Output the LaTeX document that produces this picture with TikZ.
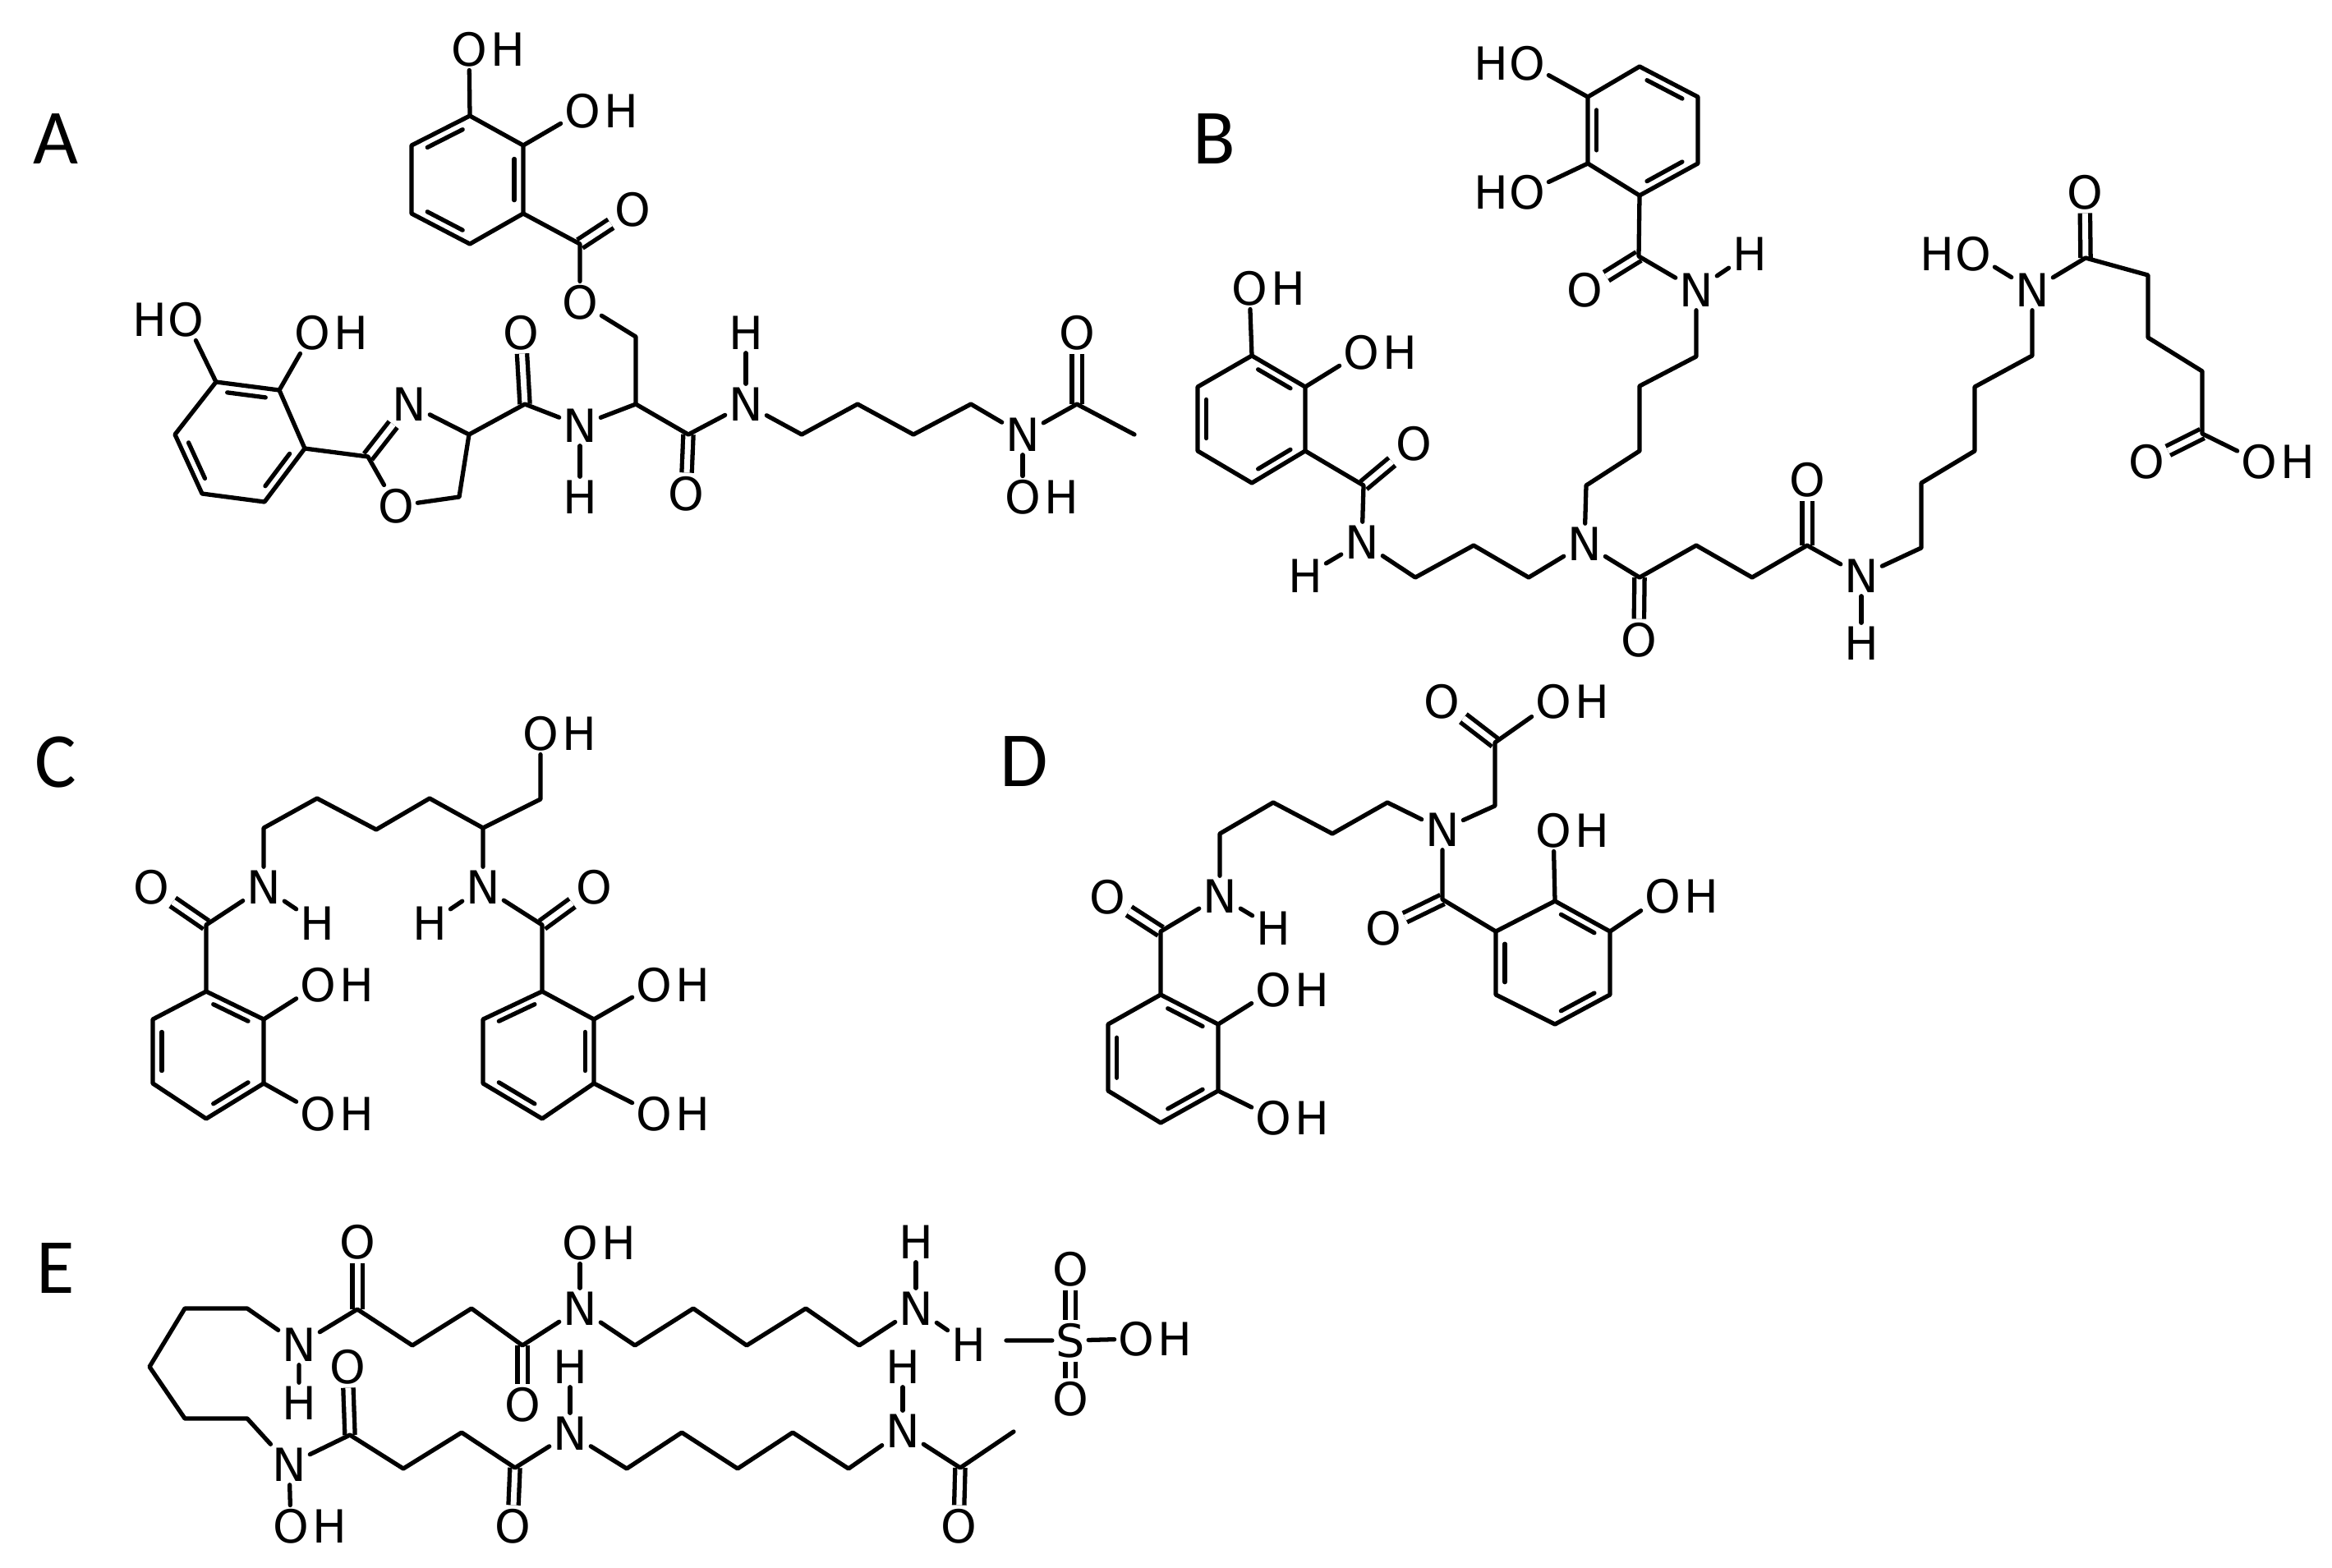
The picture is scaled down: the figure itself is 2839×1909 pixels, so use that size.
\documentclass[tikz,border=0pt]{standalone}
\usepackage{fontspec}
\setmainfont{DejaVu Sans}
\newfontfamily\panelfont{Carlito}
\usetikzlibrary{calc}
\tikzset{
  atom/.style={inner sep=0.045cm,outer sep=0pt,font=\fontsize{15.8}{17}\selectfont,text=black},
  panel/.style={inner sep=0pt,font=\panelfont\fontsize{27}{30}\selectfont,text=black},
  bond/.style={line width=1.5pt,line cap=round,line join=round,black},
  dbond/.style={line width=1.5pt,double,double distance=0.07cm,black},
}
\newcommand{\rdbl}[3]{\draw[bond] ($(#1)!.14!(#2)!.16!(#3)$) -- ($(#2)!.14!(#1)!.16!(#3)$);}
\newcommand{\OH}{O\rlap{\hspace{.09em}H}}
\newcommand{\HO}{\llap{H\hspace{.02em}}O}
\begin{document}
\begin{tikzpicture}[x=0.01cm,y=-0.01cm]
\useasboundingbox (0,0) rectangle (2839,1909);
\fill[white] (0,0) rectangle (2839,1909);

% ---------- Panel labels
\node[panel] (la) at (68,169) {A};
\node[panel] (lb) at (1478,169) {B};
\node[panel] (lc) at (68,928) {C};
\node[panel] (ld) at (1247,927) {D};
\node[panel] (le) at (68,1544) {E};

% ---------- A
\foreach \nm/\xx/\yy in {a1/572/141,a2/637/177,a3/637/260,a4/572/297,a5/501/260,a6/501/177,ac/569/219,
  acc/706/297,ach2/774/410,ach/774/492,acon/639/492,ac4/571/529,ac5/559/605,ac2/448/556,
  ap1/371/546,ap2/340/475,ap3/263/465,ap4/213/529,ap5/246/601,ap6/322/611,apc/292/538,
  acr/838/529,ab1/976/529,ab2/1044/492,ab3/1112/529,ab4/1182/492,aco/1311/492,ame/1381/529}
  {\coordinate (\nm) at (\xx,\yy);}
\node[atom] (aoh1) at (571,60) {\OH};
\node[atom] (aoh2) at (709,135) {\OH};
\node[atom] (ao1) at (770,255) {O};
\node[atom] (ao2) at (706,368) {O};
\node[atom] (an1) at (706,518) {N};
\node[atom] (ah1) at (706,605) {H};
\node[atom] (ao3) at (634,405) {O};
\node[atom] (aor) at (482,616) {O};
\node[atom] (anr) at (498,492) {N};
\node[atom] (aoh3) at (380,405) {\OH};
\node[atom] (aoh4) at (226,389) {\HO};
\node[atom] (ao4) at (835,601) {O};
\node[atom] (an2) at (908,492) {N};
\node[atom] (ah2) at (908,405) {H};
\node[atom] (an3) at (1245,529) {N};
\node[atom] (aoh5) at (1245,605) {\OH};
\node[atom] (ao5) at (1311,405) {O};
\draw[dbond] (acc) -- (ao1);
\draw[dbond] (acon) -- (ao3);
\draw[dbond] (acr) -- (ao4);
\draw[dbond] (aco) -- (ao5);
\draw[dbond] (ac2) -- (anr);
\draw[bond] (a1)--(a2)--(a3)--(a4)--(a5)--(a6)--cycle;
\rdbl{a1}{a6}{ac}\rdbl{a2}{a3}{ac}\rdbl{a4}{a5}{ac}
\draw[bond] (a1)--(aoh1);
\draw[bond] (a2)--(aoh2);
\draw[bond] (a3)--(acc)--(ao2)--(ach2)--(ach)--(an1)--(acon)--(ac4)--(anr);
\draw[bond] (an1)--(ah1);
\draw[bond] (ac4)--(ac5)--(aor)--(ac2)--(ap1);
\draw[bond] (ap1)--(ap2)--(ap3)--(ap4)--(ap5)--(ap6)--cycle;
\rdbl{ap2}{ap3}{apc}\rdbl{ap4}{ap5}{apc}\rdbl{ap6}{ap1}{apc}
\draw[bond] (ap2)--(aoh3);
\draw[bond] (ap3)--(aoh4);
\draw[bond] (ach)--(acr)--(an2)--(ab1)--(ab2)--(ab3)--(ab4)--(an3)--(aco)--(ame);
\draw[bond] (an2)--(ah2);
\draw[bond] (an3)--(aoh5);

% ---------- B
\foreach \nm/\xx/\yy in {b1/1996/81,b2/2067/118,b3/2067/199,b4/1996/238,b5/1933/199,b6/1933/118,bc/2000/158,
  bcc/1995/312,bu1/2065/434,bu2/1996/470,bu3/1996/549,bu4/1931/591,
  bl1/1861/703,bl2/1794/664,bl3/1723/703,blc/1660/591,
  br1/1589/549,br2/1524/588,br3/1458/549,br4/1458/471,br5/1524/433,br6/1589/471,brc/1524/510,
  bm1/1996/703,bm2/2065/664,bm3/2133/703,bm4/2200/664,
  bs1/2339/667,bs2/2339/588,bs3/2404/549,bs4/2404/471,bs5/2474/433,
  bt1/2539/314,bt2/2615/335,bt3/2615/411,bt4/2681/452,bt5/2681/528}
  {\coordinate (\nm) at (\xx,\yy);}
\node[atom] (boh1) at (1859,77) {\HO};
\node[atom] (boh2) at (1859,234) {\HO};
\node[atom] (bo1) at (1929,353) {O};
\node[atom] (bn1) at (2065,353) {N};
\node[atom] (bh1) at (2130,309) {H};
\node[atom] (bn2) at (1929,662) {N};
\node[atom] (bn3) at (1658,660) {N};
\node[atom] (bh3) at (1589,701) {H};
\node[atom] (bo2) at (1721,540) {O};
\node[atom] (boh3) at (1521,351) {\OH};
\node[atom] (boh4) at (1657,429) {\OH};
\node[atom] (bo3) at (1995,779) {O};
\node[atom] (bo4) at (2200,584) {O};
\node[atom] (bn4) at (2266,701) {N};
\node[atom] (bh4) at (2266,783) {H};
\node[atom] (bn5) at (2474,353) {N};
\node[atom] (boh5) at (2402,309) {\HO};
\node[atom] (bo5) at (2538,234) {O};
\node[atom] (bo6) at (2613,562) {O};
\node[atom] (boh6) at (2750,562) {\OH};
\draw[dbond] (bcc)--(bo1);
\draw[dbond] (blc)--(bo2);
\draw[dbond] (bm1)--(bo3);
\draw[dbond] (bm4)--(bo4);
\draw[dbond] (bt1)--(bo5);
\draw[dbond] (bt5)--(bo6);
\draw[bond] (b1)--(b2)--(b3)--(b4)--(b5)--(b6)--cycle;
\rdbl{b1}{b2}{bc}\rdbl{b3}{b4}{bc}\rdbl{b5}{b6}{bc}
\draw[bond] (b6)--(boh1);
\draw[bond] (b5)--(boh2);
\draw[bond] (b4)--(bcc)--(bn1)--(bu1)--(bu2)--(bu3)--(bu4)--(bn2)--(bl1)--(bl2)--(bl3)--(bn3)--(blc)--(br1);
\draw[bond] (bn1)--(bh1);
\draw[bond] (bn3)--(bh3);
\draw[bond] (br1)--(br2)--(br3)--(br4)--(br5)--(br6)--cycle;
\rdbl{br1}{br2}{brc}\rdbl{br3}{br4}{brc}\rdbl{br5}{br6}{brc}
\draw[bond] (br5)--(boh3);
\draw[bond] (br6)--(boh4);
\draw[bond] (bn2)--(bm1)--(bm2)--(bm3)--(bm4)--(bn4)--(bs1)--(bs2)--(bs3)--(bs4)--(bs5)--(bn5)--(bt1)--(bt2)--(bt3)--(bt4)--(bt5)--(boh6);
\draw[bond] (bn4)--(bh4);
\draw[bond] (bn5)--(boh5);

% ---------- C
\foreach \nm/\xx/\yy in {c1/658/973,c2/588/1008,c3/523/972,c4/458/1010,c5/386/972,c6/321/1008,
  ccl/251/1126,cl1/251/1207,cl2/186/1241,cl3/186/1319,cl4/251/1362,cl5/321/1319,cl6/321/1241,clc/254/1280,
  ccr/660/1126,cr1/660/1207,cr2/588/1241,cr3/588/1319,cr4/660/1362,cr5/723/1319,cr6/723/1241,crc/656/1280}
  {\coordinate (\nm) at (\xx,\yy);}
\node[atom] (coh0) at (658,893) {\OH};
\node[atom] (cn1) at (321,1080) {N};
\node[atom] (ch1) at (386,1124) {H};
\node[atom] (co1) at (184,1080) {O};
\node[atom] (coh1) at (387,1199) {\OH};
\node[atom] (coh2) at (387,1356) {\OH};
\node[atom] (cn2) at (588,1080) {N};
\node[atom] (ch2) at (523,1124) {H};
\node[atom] (co2) at (723,1080) {O};
\node[atom] (coh3) at (796,1199) {\OH};
\node[atom] (coh4) at (796,1356) {\OH};
\draw[dbond] (ccl)--(co1);
\draw[dbond] (ccr)--(co2);
\draw[bond] (coh0)--(c1)--(c2)--(c3)--(c4)--(c5)--(c6)--(cn1)--(ccl)--(cl1);
\draw[bond] (cn1)--(ch1);
\draw[bond] (c2)--(cn2)--(ccr)--(cr1);
\draw[bond] (cn2)--(ch2);
\draw[bond] (cl1)--(cl2)--(cl3)--(cl4)--(cl5)--(cl6)--cycle;
\rdbl{cl1}{cl6}{clc}\rdbl{cl2}{cl3}{clc}\rdbl{cl4}{cl5}{clc}
\draw[bond] (cl6)--(coh1);
\draw[bond] (cl5)--(coh2);
\draw[bond] (cr1)--(cr2)--(cr3)--(cr4)--(cr5)--(cr6)--cycle;
\rdbl{cr1}{cr2}{crc}\rdbl{cr5}{cr6}{crc}\rdbl{cr3}{cr4}{crc}
\draw[bond] (cr6)--(coh3);
\draw[bond] (cr5)--(coh4);

% ---------- D
\foreach \nm/\xx/\yy in {dc1/1820/904,dc2/1820/981,d1/1689/977,d2/1622/1015,d3/1550/977,d4/1485/1015,
  dcl/1413/1134,dl1/1413/1211,dl2/1349/1247,dl3/1349/1328,dl4/1413/1367,dl5/1483/1328,dl6/1483/1247,dlc/1416/1289,
  dcr/1756/1095,dr1/1821/1134,dr2/1893/1097,dr3/1960/1134,dr4/1960/1211,dr5/1893/1247,dr6/1821/1211,drc/1890/1172}
  {\coordinate (\nm) at (\xx,\yy);}
\node[atom] (do1) at (1755,854) {O};
\node[atom] (doh1) at (1891,854) {\OH};
\node[atom] (dn1) at (1756,1010) {N};
\node[atom] (dn2) at (1485,1091) {N};
\node[atom] (dh2) at (1550,1130) {H};
\node[atom] (do2) at (1348,1092) {O};
\node[atom] (doh2) at (1550,1205) {\OH};
\node[atom] (doh3) at (1550,1361) {\OH};
\node[atom] (do3) at (1684,1130) {O};
\node[atom] (doh4) at (1891,1011) {\OH};
\node[atom] (doh5) at (2024,1091) {\OH};
\draw[dbond] (dc1)--(do1);
\draw[dbond] (dcl)--(do2);
\draw[dbond] (dcr)--(do3);
\draw[bond] (doh1)--(dc1)--(dc2)--(dn1)--(d1)--(d2)--(d3)--(d4)--(dn2)--(dcl)--(dl1);
\draw[bond] (dn2)--(dh2);
\draw[bond] (dn1)--(dcr)--(dr1);
\draw[bond] (dl1)--(dl2)--(dl3)--(dl4)--(dl5)--(dl6)--cycle;
\rdbl{dl1}{dl6}{dlc}\rdbl{dl2}{dl3}{dlc}\rdbl{dl4}{dl5}{dlc}
\draw[bond] (dl6)--(doh2);
\draw[bond] (dl5)--(doh3);
\draw[bond] (dr1)--(dr2)--(dr3)--(dr4)--(dr5)--(dr6)--cycle;
\rdbl{dr2}{dr3}{drc}\rdbl{dr4}{dr5}{drc}\rdbl{dr6}{dr1}{drc}
\draw[bond] (dr2)--(doh4);
\draw[bond] (dr3)--(doh5);

% ---------- E
\foreach \nm/\xx/\yy in {ec1/435/1594,e2/502/1638,e3/574/1593,ec4/636/1638,e5/773/1638,e6/844/1593,e7/909/1638,e8/981/1593,e9/1046/1638,
  el1/301/1593,el2/225/1593,el3/182/1664,el4/225/1727,el5/301/1727,
  ed1/426/1747,f2/491/1788,f3/562/1744,ed4/627/1787,f5/763/1788,f6/830/1744,f7/898/1788,f8/965/1744,f9/1033/1788,
  ed10/1169/1787,eme/1234/1743,edash/1225/1632}
  {\coordinate (\nm) at (\xx,\yy);}
\node[atom] (eo1) at (435,1512) {O};
\node[atom] (eo2) at (636,1710) {O};
\node[atom] (en1) at (706,1593) {N};
\node[atom] (eoh1) at (706,1513) {\OH};
\node[atom] (en2) at (1115,1593) {N};
\node[atom] (eh2) at (1115,1512) {H};
\node[atom] (eh3) at (1179,1637) {H};
\node[atom] (es) at (1303,1632) {S};
\node[atom] (eo3) at (1303,1545) {O};
\node[atom] (eo4) at (1303,1703) {O};
\node[atom] (eoh2) at (1383,1630) {\OH};
\node[atom] (en3) at (364,1637) {N};
\node[atom] (eh4) at (364,1708) {H};
\node[atom] (en4) at (352,1783) {N};
\node[atom] (eoh3) at (354,1858) {\OH};
\node[atom] (eo5) at (423,1664) {O};
\node[atom] (eo6) at (624,1858) {O};
\node[atom] (en5) at (694,1745) {N};
\node[atom] (eh5) at (694,1664) {H};
\node[atom] (en6) at (1099,1742) {N};
\node[atom] (eh6) at (1099,1664) {H};
\node[atom] (eo7) at (1167,1858) {O};
\draw[dbond] (ec1)--(eo1);
\draw[dbond] (ec4)--(eo2);
\draw[dbond] (es)--(eo3);
\draw[dbond] (es)--(eo4);
\draw[dbond] (ed1)--(eo5);
\draw[dbond] (ed4)--(eo6);
\draw[dbond] (ed10)--(eo7);
\draw[bond] (en3)--(ec1)--(e2)--(e3)--(ec4)--(en1)--(e5)--(e6)--(e7)--(e8)--(e9)--(en2)--(eh3);
\draw[bond] (en1)--(eoh1);
\draw[bond] (en2)--(eh2);
\draw[bond] (edash)--(es)--(eoh2);
\draw[bond] (eh4)--(en3)--(el1)--(el2)--(el3)--(el4)--(el5)--(en4)--(ed1)--(f2)--(f3)--(ed4)--(en5)--(f5)--(f6)--(f7)--(f8)--(f9)--(en6)--(ed10)--(eme);
\draw[bond] (en4)--(eoh3);
\draw[bond] (en5)--(eh5);
\draw[bond] (en6)--(eh6);
\end{tikzpicture}
\end{document}
